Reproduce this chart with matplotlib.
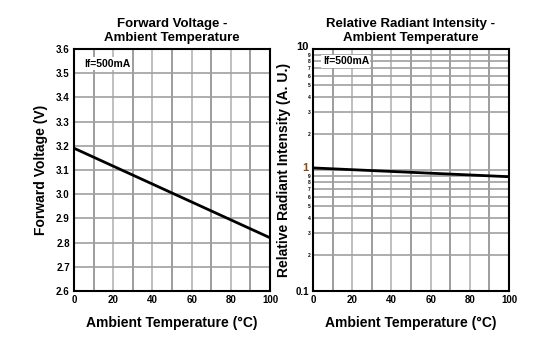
import matplotlib
matplotlib.use("Agg")
import matplotlib.pyplot as plt
import matplotlib.transforms as mtransforms
from matplotlib.ticker import FixedLocator, FixedFormatter

plt.rcParams['font.family'] = ['Liberation Sans', 'DejaVu Sans']
plt.rcParams['font.weight'] = 'bold'

temp = [0, 100]
vf = [3.19, 2.82]
intensity = [1.04, 0.88]

vf_ticks = [2.6, 2.7, 2.8, 2.9, 3.0, 3.1, 3.2, 3.3, 3.4, 3.5, 3.6]
vf_labels = ['2.6', '2.7', '2.8', '2.9', '3.0', '3.1', '3.2', '3.3', '3.4', '3.5', '3.6']
x_ticks = [0, 20, 40, 60, 80, 100]
log_major = [0.1, 1, 10]
log_minor = [0.2, 0.3, 0.4, 0.5, 0.6, 0.7, 0.8, 0.9, 2, 3, 4, 5, 6, 7, 8, 9]
log_minor_labels = ['2', '3', '4', '5', '6', '7', '8', '9'] * 2

fig = plt.figure(figsize=(5.59, 3.62), dpi=100)
W, H = 559, 362
ax1 = fig.add_axes([74 / W, 1 - 291 / H, 196 / W, 242 / H])
ax2 = fig.add_axes([313 / W, 1 - 291 / H, 196 / W, 242 / H])


def vgrid(ax):
    for xv in range(10, 100, 10):
        c = '#8c8c8c' if xv % 20 else '#b4b4b4'
        ax.axvline(xv, color=c, lw=1.2, zorder=1)


# left panel
vgrid(ax1)
for yv in vf_ticks[1:-1]:
    ax1.axhline(yv, color='#a0a0a0', lw=1.2, zorder=1)
ax1.plot(temp, vf, color='black', lw=2, zorder=3)
ax1.set_xlim(0, 100)
ax1.set_ylim(2.6, 3.6)
ax1.set_xticks(x_ticks)
ax1.set_yticks(vf_ticks)
ax1.set_yticklabels(vf_labels)
ax1.set_title('Forward Voltage -\nAmbient Temperature', fontsize=9.5, fontweight='bold', pad=6)
ax1.set_xlabel('Ambient Temperature (°C)', fontsize=10, fontweight='bold', labelpad=8)
ax1.set_ylabel('Forward Voltage (V)', fontsize=10, fontweight='bold', labelpad=6)
ax1.text(5, 3.56, 'If=500mA', fontsize=7.5, fontweight='bold', va='top',
         bbox=dict(facecolor='white', edgecolor='none', pad=1), zorder=4)

# right panel
vgrid(ax2)
for yv in log_minor + [1]:
    ax2.axhline(yv, color='#a0a0a0', lw=1.2, zorder=1)
ax2.plot(temp, intensity, color='black', lw=2, zorder=3)
ax2.set_yscale('log')
ax2.set_xlim(0, 100)
ax2.set_ylim(0.1, 10)
ax2.set_xticks(x_ticks)
ax2.yaxis.set_major_locator(FixedLocator(log_major))
ax2.yaxis.set_major_formatter(FixedFormatter(['0.1', '1', '10']))
ax2.yaxis.set_minor_locator(FixedLocator(log_minor))
ax2.yaxis.set_minor_formatter(FixedFormatter(log_minor_labels))
ax2.tick_params(axis='y', which='minor', labelsize=3.5, length=0, pad=2)
ax2.set_title('Relative Radiant Intensity -\nAmbient Temperature', fontsize=9.5, fontweight='bold', pad=6)
ax2.set_xlabel('Ambient Temperature (°C)', fontsize=10, fontweight='bold', labelpad=8)
ax2.set_ylabel('Relative Radiant Intensity (A. U.)', fontsize=10, fontweight='bold', labelpad=3)
ax2.text(5, 7.9, 'If=500mA', fontsize=7.5, fontweight='bold', va='center',
         bbox=dict(facecolor='white', edgecolor='none', pad=1), zorder=4)

for ax in (ax1, ax2):
    ax.tick_params(axis='both', which='major', labelsize=7, length=0, pad=3)
    for lab in ax.get_xticklabels() + ax.get_yticklabels():
        lab.set_fontweight('bold')
    for s in ax.spines.values():
        s.set_linewidth(1.5)
        s.set_zorder(5)

# raise the "1" and "10" labels a little, as in the reference
up = mtransforms.ScaledTranslation(0, 3 / 100, fig.dpi_scale_trans)
for lab in ax2.yaxis.get_majorticklabels():
    if lab.get_text() in ('1', '10'):
        lab.set_transform(lab.get_transform() + up)
        lab.set_fontsize(8)
    if lab.get_text() == '1':
        lab.set_color('#8a4a10')

fig.savefig('out.png', dpi=100)
